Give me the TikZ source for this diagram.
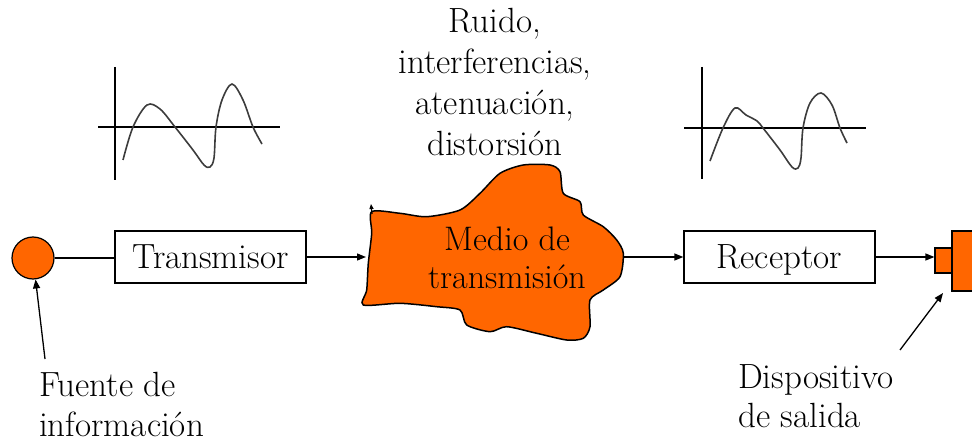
\documentclass[tikz,border=0pt]{standalone}
\usetikzlibrary{arrows.meta}
\definecolor{orng}{RGB}{255,102,0}
\definecolor{wave}{RGB}{60,60,60}
\tikzset{
  txt/.style={inner sep=0pt, font=\fontsize{35}{41}\selectfont},
  boxnode/.style={draw, line width=1.3pt, minimum width=191pt, minimum height=52pt, inner sep=0pt,
                  text height=22pt, text depth=0pt, font=\fontsize{35}{41}\selectfont},
  srcnode/.style={circle, draw, line width=1.2pt, fill=orng, minimum size=42pt, inner sep=0pt},
  devnode/.style={draw, line width=1.2pt, fill=orng, inner sep=0pt},
  conn/.style={line width=1.3pt},
  arr/.style={line width=1.3pt, -{Triangle[length=9pt,width=7pt]}},
  axis/.style={line width=1.5pt},
  sig/.style={line width=1.6pt, color=wave},
}
\begin{document}
\begin{tikzpicture}[x=1pt,y=-1pt]
\useasboundingbox (0,0) rectangle (972,441);

% top annotation
\node[txt, anchor=base] (ruido) at (495,33)
  {\begin{tabular}[t]{@{}c@{}}Ruido,\\ interferencias,\\ atenuación,\\ distorsión\end{tabular}};

% waveform 1
\draw[axis] (115,67) -- (115,180);
\draw[axis] (98,127) -- (280,127);
\draw[sig] plot[smooth, tension=0.55] coordinates {(123,160) (133,127) (147,105) (160,109) (175,127) (193,150) (204,165) (210,167) (214,158) (216,127) (222,100) (232,84) (243,100) (253,127) (262,144)};

% waveform 2
\draw[axis] (702,67) -- (702,179);
\draw[axis] (684,128) -- (866,128);
\draw[sig] plot[smooth, tension=0.55] coordinates {(710,161) (723,128) (735,108) (746,115) (757,121) (763,128) (780,150) (792,167) (798,168) (801,158) (803,128) (810,103) (821,93) (832,105) (840,128) (847,143)};

% source
\node[srcnode] (fuente) at (33,258) {};
\node[boxnode] (tx) at (210.5,257) {Transmisor};
\draw[conn] (fuente) -- (fuente -| tx.west);

% medium cloud
\draw[line width=1.5pt, fill=orng] plot[smooth cycle, tension=0.45] coordinates {
 (371.7,211.7) (400,213.3) (426.7,216.7) (460,210) (480,193.3) (500,173.3) (523.3,165)
 (550,165) (560,171.7) (563.3,193.3) (580,201.7) (583.3,215) (603.3,226.7) (616.7,240)
 (623.3,253.3) (620,276.7) (603.3,290) (590,300) (590,326.7) (583.3,338.3) (566.7,340)
 (536.7,333.3) (506.7,326.7) (490,331.7) (466.7,325) (460,310) (436.7,306.7) (400,303.3)
 (363.3,305) (366.7,290) (368.3,263.3) (371.7,233.3)};
\coordinate (mtip) at (371,204);
\coordinate (mbase) at (372,214);
\draw[line width=1.2pt, -{Triangle[length=5pt,width=4pt]}] (mbase) -- (mtip);
\node[txt, anchor=base] (medio) at (507,250)
  {\fontsize{34}{38}\selectfont\begin{tabular}[t]{@{}c@{}}Medio de\\ transmisión\end{tabular}};
\coordinate (min) at (366,257);
\coordinate (mout) at (623,257);
\draw[arr] (tx) -- (min);

% receiver
\node[boxnode] (rx) at (779.5,257) {Receptor};
\draw[arr] (mout) -- (rx);

% output device
\node[devnode, minimum width=17pt, minimum height=25pt] (sal1) at (943.5,260.5) {};
\node[devnode, minimum width=40pt, minimum height=60pt] (sal2) at (972,261) {};
\draw[arr] (rx) -- (rx -| sal1.west);

% labels
\node[txt, anchor=base west] (lfuente) at (39,396)
  {\fontsize{35}{40}\selectfont\begin{tabular}[t]{@{}l@{}}Fuente de\\ información\end{tabular}};
\coordinate (fa) at (45,359);
\draw[arr] (fa) -- (fuente);

\node[txt, anchor=base west] (ldisp) at (738,388)
  {\fontsize{35}{39}\selectfont\begin{tabular}[t]{@{}l@{}}Dispositivo\\ de salida\end{tabular}};
\coordinate (da) at (900,350);
\coordinate (db) at (943,293);
\draw[arr] (da) -- (db);
\end{tikzpicture}
\end{document}
